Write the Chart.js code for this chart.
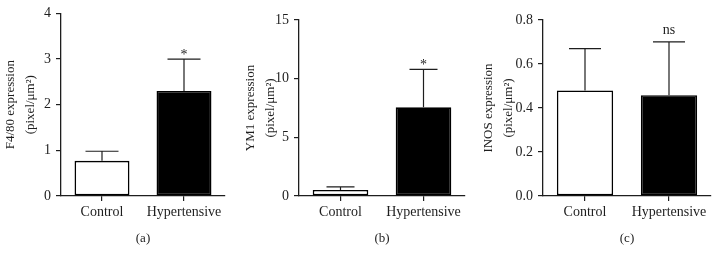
<!DOCTYPE html>
<html>
<head>
<meta charset="utf-8">
<script src="https://cdn.jsdelivr.net/npm/chart.js@4.4.1/dist/chart.umd.min.js"></script>
<style>
  html, body { margin: 0; padding: 0; background: #fff; }
  #wrap { position: relative; width: 718px; height: 265px; }
  canvas { position: absolute; top: 0; }
</style>
</head>
<body>
<div id="wrap">
  <canvas id="chartA" width="240" height="265" style="left:0px"></canvas>
  <canvas id="chartB" width="240" height="265" style="left:240px"></canvas>
  <canvas id="chartC" width="240" height="265" style="left:478px"></canvas>
</div>

<script>
  // data
  const groups = ['Control', 'Hypertensive'];

  const f480Mean = [0.77, 2.30];
  const f480Err = [0.21, 0.70];
  const f480Marks = ['', '*'];

  const ym1Mean = [0.51, 7.56];
  const ym1Err = [0.26, 3.24];
  const ym1Marks = ['', '*'];

  const inosMean = [0.48, 0.458];
  const inosErr = [0.19, 0.243];
  const inosMarks = ['', 'ns'];

  const barFills = ['#ffffff', '#000000'];
  const serif = '"Liberation Serif", "Times New Roman", serif';
  const ink = '#1e1e1e';

  // error bars (upper only) + significance labels
  const errorBars = {
    id: 'errorBars',
    afterDatasetsDraw(chart, args, opts) {
      const ctx = chart.ctx;
      const meta = chart.getDatasetMeta(0);
      const yScale = chart.scales.y;
      const values = chart.data.datasets[0].data;
      ctx.save();
      ctx.strokeStyle = ink;
      ctx.lineWidth = 1.2;
      meta.data.forEach((bar, i) => {
        const top = yScale.getPixelForValue(values[i] + opts.errors[i]);
        ctx.beginPath();
        ctx.moveTo(bar.x, bar.y);
        ctx.lineTo(bar.x, top);
        ctx.moveTo(bar.x - opts.cap / 2, top);
        ctx.lineTo(bar.x + opts.cap / 2, top);
        ctx.stroke();
        if (opts.marks[i]) {
          ctx.fillStyle = ink;
          ctx.font = '14px ' + serif;
          ctx.textAlign = 'center';
          ctx.textBaseline = 'alphabetic';
          ctx.fillText(opts.marks[i], bar.x, top - (opts.marks[i] === '*' ? 0 : 8));
        }
      });
      ctx.restore();
    }
  };

  function makePanel(id, values, errors, marks, cfg) {
    const ctx = document.getElementById(id).getContext('2d');
    return new Chart(ctx, {
      type: 'bar',
      data: {
        labels: groups,
        datasets: [{
          data: values,
          backgroundColor: barFills,
          borderColor: '#000',
          borderWidth: 1.6,
          borderSkipped: false,
          barPercentage: 0.67,
          categoryPercentage: 1.0
        }]
      },
      options: {
        responsive: false,
        animation: false,
        layout: { padding: { left: 0, right: cfg.padRight, top: cfg.padTop, bottom: 0 } },
        plugins: {
          legend: { display: false },
          tooltip: { enabled: false },
          errorBars: { errors: errors, marks: marks, cap: cfg.cap }
        },
        scales: {
          x: {
            grid: { display: true, drawOnChartArea: false, offset: false, tickLength: 5, color: ink, lineWidth: 1.2 },
            border: { color: ink, width: 1.3 },
            ticks: { color: ink, font: { family: serif, size: 14 }, padding: 3 },
            title: { display: true, text: cfg.letter, color: ink, font: { family: serif, size: 13 }, padding: { top: 0, bottom: 19 } },
            afterFit: s => { s.height = 69; }
          },
          y: {
            min: 0,
            max: cfg.max,
            grid: { display: true, drawOnChartArea: false, tickLength: 5, color: ink, lineWidth: 1.2 },
            border: { color: ink, width: 1.3 },
            ticks: {
              stepSize: cfg.step,
              color: ink,
              font: { family: serif, size: 14 },
              padding: 5,
              callback: v => cfg.decimals ? v.toFixed(cfg.decimals) : v
            },
            title: {
              display: true,
              text: cfg.title,
              color: ink,
              font: { family: serif, size: 13, lineHeight: 1.5 },
              padding: { top: 1, bottom: 0 }
            },
            afterFit: s => { s.width = cfg.axisX; }
          }
        }
      },
      plugins: [errorBars]
    });
  }

  makePanel('chartA', f480Mean, f480Err, f480Marks, {
    letter: '(a)', title: ['F4/80 expression', '(pixel/μm²)'],
    max: 4, step: 1, decimals: 0, axisX: 61, padTop: 13, padRight: 15, cap: 33
  });
  makePanel('chartB', ym1Mean, ym1Err, ym1Marks, {
    letter: '(b)', title: ['YM1 expression', '(pixel/μm²)'],
    max: 15, step: 5, decimals: 0, axisX: 59, padTop: 20, padRight: 15, cap: 28
  });
  makePanel('chartC', inosMean, inosErr, inosMarks, {
    letter: '(c)', title: ['INOS expression', '(pixel/μm²)'],
    max: 0.8, step: 0.2, decimals: 1, axisX: 65, padTop: 20, padRight: 7, cap: 32
  });
</script>
</body>
</html>
